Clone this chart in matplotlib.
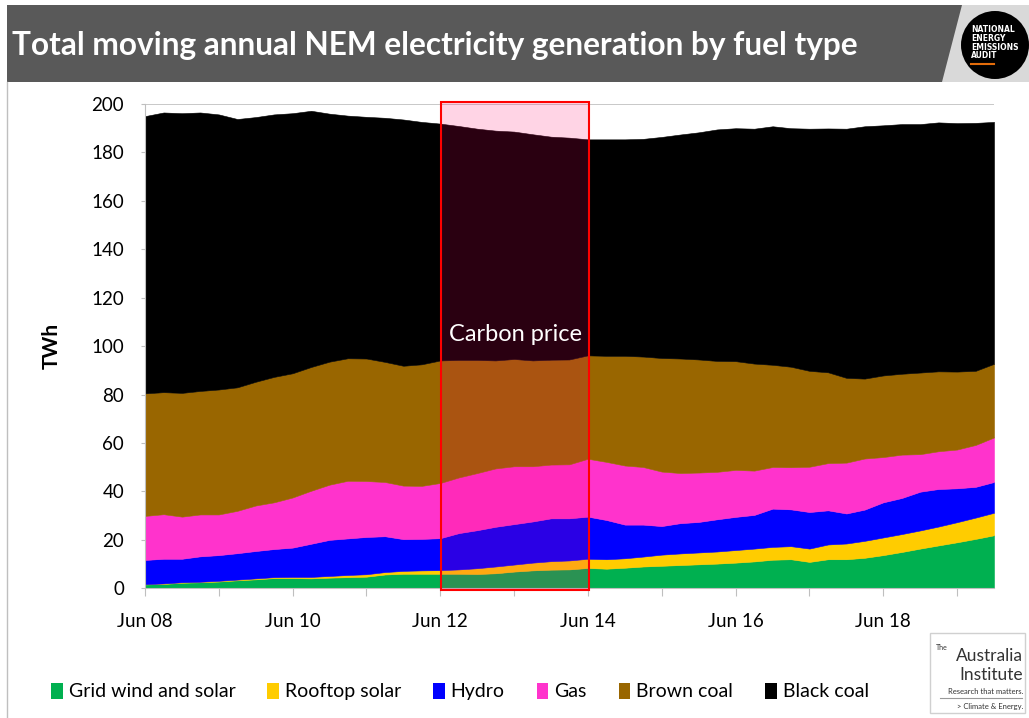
import numpy as np
import pandas as pd
import matplotlib
matplotlib.use('Agg')
import matplotlib.pyplot as plt
import matplotlib.dates as mdates
from matplotlib.patches import Rectangle, Circle, Polygon, Patch

plt.rcParams['font.family'] = ['Lato', 'DejaVu Sans']

# moving annual totals (TWh), read quarterly from Jun 2008 to Dec 2019
months = pd.date_range('2008-06-01', '2019-12-01', freq='3MS')

grid_wind_solar = [1.6, 1.8, 2.3, 2.5, 2.8, 3.3, 3.7, 4.2, 4.2, 4.1, 4.4, 4.6,
                   4.8, 5.7, 6.0, 6.0, 6.0, 6.0, 5.9, 6.2, 6.9, 7.4, 7.7, 7.8,
                   8.4, 8.1, 8.5, 9.0, 9.3, 9.6, 9.9, 10.2, 10.6, 11.1, 11.8, 12.0,
                   10.9, 12.0, 12.0, 12.6, 13.7, 15.0, 16.4, 17.7, 19.0, 20.4, 21.9]
rooftop_solar = [0.1, 0.2, 0.2, 0.2, 0.3, 0.3, 0.4, 0.4, 0.5, 0.6, 0.7, 0.9,
                 1.0, 1.0, 1.2, 1.4, 1.5, 1.8, 2.4, 2.8, 2.9, 3.2, 3.5, 3.7,
                 3.8, 3.9, 3.9, 4.1, 4.6, 4.8, 4.9, 5.0, 5.2, 5.3, 5.3, 5.4,
                 5.5, 6.1, 6.5, 7.0, 7.3, 7.4, 7.5, 7.8, 8.3, 8.8, 9.3]
hydro = [10.0, 10.2, 9.7, 10.5, 10.6, 10.9, 11.3, 11.6, 12.1, 13.7, 14.9, 15.1,
         15.4, 14.8, 13.1, 13.0, 13.2, 15.0, 15.7, 16.4, 16.7, 17.0, 17.7, 17.4,
         17.4, 16.2, 13.9, 13.2, 11.8, 12.5, 12.6, 13.3, 13.7, 13.9, 15.8, 15.2,
         15.1, 14.1, 12.4, 12.9, 14.5, 14.9, 16.0, 15.5, 14.0, 12.7, 12.7]
gas = [18.2, 18.4, 17.4, 17.3, 16.8, 17.5, 18.8, 19.3, 20.7, 21.9, 22.8, 23.8,
       23.1, 22.4, 22.1, 21.9, 22.8, 23.0, 23.6, 24.1, 23.9, 22.8, 22.2, 22.3,
       23.9, 24.0, 24.4, 23.8, 22.5, 20.7, 20.4, 19.6, 19.4, 18.3, 17.2, 17.4,
       18.7, 19.5, 21.0, 21.1, 18.7, 17.9, 15.5, 15.6, 16.0, 17.3, 18.4]
brown_coal = [50.6, 50.4, 51.1, 51.0, 51.6, 51.0, 51.1, 51.8, 51.3, 51.1, 50.8, 50.6,
              50.6, 49.6, 49.5, 50.2, 50.6, 48.5, 46.7, 44.6, 44.3, 43.7, 43.3, 43.3,
              42.7, 43.8, 45.3, 45.6, 46.9, 47.3, 46.7, 45.8, 44.9, 44.2, 42.2, 41.5,
              39.6, 37.5, 35.0, 33.0, 33.7, 33.4, 33.7, 33.0, 32.2, 30.6, 30.4]
black_coal = [114.5, 115.5, 115.5, 115.0, 113.6, 110.8, 109.3, 108.4, 107.4, 105.8, 102.4, 100.2,
              99.8, 100.8, 101.7, 100.1, 97.8, 96.6, 95.5, 94.9, 93.9, 93.4, 92.1, 91.6,
              89.2, 89.4, 89.4, 89.9, 91.3, 92.5, 93.8, 95.6, 96.2, 97.0, 98.5, 98.5,
              100.0, 100.7, 102.9, 104.2, 103.3, 103.1, 102.6, 102.8, 102.6, 102.4, 99.9]

labels = ['Grid wind and solar', 'Rooftop solar', 'Hydro', 'Gas', 'Brown coal', 'Black coal']
colors = ['#00B050', '#FFCC00', '#0000FF', '#FF33CC', '#996600', '#000000']
series = [grid_wind_solar, rooftop_solar, hydro, gas, brown_coal, black_coal]

carbon_start = pd.Timestamp('2012-06-06')
carbon_end = pd.Timestamp('2014-06-06')

W, H = 1029, 718
fig = plt.figure(figsize=(W / 100, H / 100), dpi=100)

# background layer in pixel coordinates for header, logos and border
bg = fig.add_axes([0, 0, 1, 1], zorder=0)
bg.set_xlim(0, W)
bg.set_ylim(H, 0)
bg.axis('off')
bg.add_patch(Rectangle((7, 5), W - 7, 77, fc='#595959', ec='none'))
bg.text(12, 45, 'Total moving annual NEM electricity generation by fuel type',
        color='white', fontsize=22.8, fontweight='bold', va='center', ha='left')
bg.plot([7, 7], [82, H], color='#BFBFBF', lw=1)

# NEEA badge
bg.add_patch(Polygon([(962, 5), (W, 5), (W, 82), (942, 82)], fc='#D9D9D9', ec='none'))
bg.add_patch(Circle((995, 45), 34, fc='black', ec='none'))
for i, word in enumerate(['NATIONAL', 'ENERGY', 'EMISSIONS', 'AUDIT']):
    bg.text(971, 30 + i * 8.5, word, color='white', fontsize=5.5, fontweight='bold',
            va='center', ha='left', family='DejaVu Sans')
bg.plot([971, 994], [64, 64], color='#E36C0A', lw=1.5)

# Australia Institute logo
bg.add_patch(Rectangle((930, 633), 95, 80, fc='white', ec='#D0D0D0', lw=1))
bg.text(936, 648, 'The', fontsize=5, color='#333333', va='center', ha='left')
bg.text(1023, 656, 'Australia', fontsize=12.5, color='#333333', va='center', ha='right')
bg.text(1023, 675, 'Institute', fontsize=12.5, color='#333333', va='center', ha='right')
bg.text(1023, 692, 'Research that matters.', fontsize=5.5, color='#333333', va='center', ha='right')
bg.plot([940, 1022], [698, 698], color='#999999', lw=0.8)
bg.text(1023, 706, '> Climate & Energy.', fontsize=5.5, color='#333333', va='center', ha='right')

# chart
ax = fig.add_axes([145 / W, 1 - 588.3 / H, (994 - 145) / W, (588.3 - 104) / H], zorder=1)
ax.patch.set_alpha(0)

lower = np.zeros(len(months))
for vals, c in zip(series, colors):
    upper = lower + np.array(vals)
    ax.fill_between(months, lower, upper, color=c, lw=0.4)
    lower = upper

ax.set_xlim(months[0], months[-1])
ax.set_ylim(0, 200)
ax.set_yticks(range(0, 201, 20))
ax.grid(axis='y', color='#BFBFBF', lw=1.2)
ax.set_axisbelow(True)

years = pd.date_range('2008-06-01', '2019-06-01', freq='12MS')
ax.set_xticks(years)
ax.set_xticklabels([d.strftime('Jun %y') if (d.year % 2 == 0) else '' for d in years])

for s in ['top', 'right']:
    ax.spines[s].set_visible(False)
ax.spines['left'].set_color('#BFBFBF')
ax.spines['bottom'].set_color('#BFBFBF')
ax.tick_params(axis='x', length=6, color='#BFBFBF', pad=12, labelsize=13.5)
ax.tick_params(axis='y', length=3, color='#BFBFBF', pad=12, labelsize=13.5)
ax.set_ylabel('TWh', fontsize=15, fontweight='bold', labelpad=21)

# carbon price period
x0 = mdates.date2num(carbon_start)
x1 = mdates.date2num(carbon_end)
ax.add_patch(Rectangle((x0, -0.8), x1 - x0, 201.6, fc=(1, 0, 0.4, 0.17), ec='red',
                       lw=1.5, clip_on=False, zorder=5))
ax.text((x0 + x1) / 2, 105, 'Carbon price', color='white', fontsize=17,
        ha='center', va='center', zorder=6)

handles = [Patch(fc=c, ec='none') for c in colors]
fig.legend(handles, labels, loc='center', bbox_to_anchor=(0.447, 0.037), ncol=6,
           frameon=False, fontsize=14, handlelength=0.6, handleheight=0.9,
           handletextpad=0.3, columnspacing=1.65)

fig.savefig('out.png', dpi=100)
